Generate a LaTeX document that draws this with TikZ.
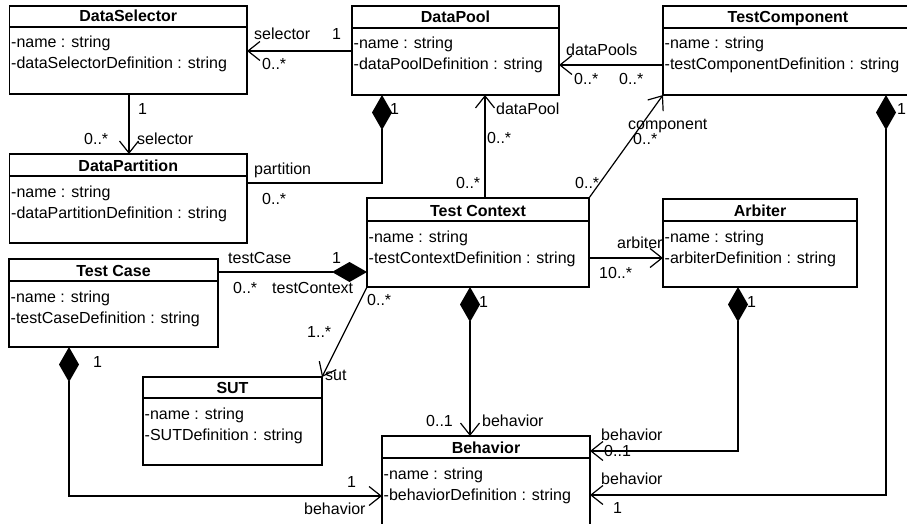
\documentclass[tikz,border=0pt]{standalone}
\usepackage{fontspec}
\setmainfont{Liberation Sans}
\usetikzlibrary{arrows.meta}
\tikzset{
  clsbox/.style={draw, line width=1.2pt, inner sep=0pt, outer sep=0pt, anchor=north west},
  clsline/.style={line width=1.2pt},
  clstitle/.style={anchor=base, inner sep=0pt, font=\fontsize{16}{19}\selectfont\bfseries},
  clsattr/.style={anchor=base west, inner sep=0pt, font=\fontsize{16}{19}\selectfont},
  lbl/.style={anchor=base west, inner sep=0pt, font=\fontsize{16}{19}\selectfont},
  assoc/.style={line width=1.2pt, -{Straight Barb[length=12pt,width=19pt]}},
  comp/.style={line width=1.2pt, {Diamond[length=35pt,width=20pt]}-},
  comparrow/.style={line width=1.2pt, {Diamond[length=35pt,width=20pt]}-{Straight Barb[length=12pt,width=19pt]}},
}
\newcommand{\umlclass}[9]{%
  \node[clsbox, minimum width={#4-#2}, minimum height={#5-#3}] (#1) at (#2,#3) {};
  \draw[clsline] (#1.west |- 0,#6) -- (#1.east |- 0,#6);
  \node[clstitle] (#1-title) at ({(#2+#4)/2},{#6-5}) {#7};
  \node[clsattr] (#1-a1) at ({#2+1.5},{#6+21}) {#8};
  \node[clsattr] (#1-a2) at ({#2+1.5},{#6+42}) {#9};
}
\newcommand{\lbl}[4]{\node[lbl] (#1) at (#2,#3) {#4};}
\begin{document}
\begin{tikzpicture}[x=1pt,y=-1pt]
\useasboundingbox (0,0) rectangle (907,524);
\fill[white] (0,0) rectangle (907,524);
\clip (0,0) rectangle (907,524);
% classes
\umlclass{ds}{9.5}{6}{247}{94}{27}{DataSelector}{-name : string}{-dataSelectorDefinition : string}
\umlclass{dpart}{9.5}{154}{247}{243}{176}{DataPartition}{-name : string}{-dataPartitionDefinition : string}
\umlclass{dp}{352}{6}{559}{95}{28}{DataPool}{-name : string}{-dataPoolDefinition : string}
\umlclass{tcomp}{663}{6}{913}{95}{28}{TestComponent}{-name : string}{-testComponentDefinition : string}
\umlclass{ctx}{367}{198}{589}{287}{221}{Test Context}{-name : string}{-testContextDefinition : string}
\umlclass{arb}{663}{199}{857}{287}{221}{Arbiter}{-name : string}{-arbiterDefinition : string}
\umlclass{tcase}{9}{259}{218}{347}{281}{Test Case}{-name : string}{-testCaseDefinition : string}
\umlclass{sut}{143}{377}{322}{465}{398}{SUT}{-name : string}{-SUTDefinition : string}
\umlclass{beh}{382}{436}{590}{545}{458}{Behavior}{-name : string}{-behaviorDefinition : string}
% connectors
\draw[assoc] (dp.west |- 0,51) -- (ds.east |- 0,51);
\draw[assoc] (ds.south -| 129,0) -- (dpart.north -| 129,0);
\draw[comp] (dp.south -| 382,0) |- (dpart.east |- 0,183);
\draw[assoc] (ctx.north -| 485,0) -- (dp.south -| 485,0);
\draw[assoc] (tcomp.west |- 0,65) -- (dp.east |- 0,65);
\draw[assoc] (ctx.north east) -- (tcomp.south west);
\draw[assoc] (ctx.east |- 0,258) -- (arb.west |- 0,258);
\draw[comp] (ctx.west |- 0,272) -- (tcase.east |- 0,272);
\draw[assoc] (ctx.south west) -- (sut.north east);
\draw[comparrow] (ctx.south -| 470,0) -- (beh.north -| 470,0);
\draw[comparrow] (arb.south -| 738,0) |- (beh.east |- 0,451);
\draw[comparrow] (tcomp.south -| 886,0) |- (beh.east |- 0,495);
\draw[comparrow] (tcase.south -| 69,0) |- (beh.west |- 0,496);
% labels
\lbl{l1}{254}{40}{selector}
\lbl{l2}{332}{40}{1}
\lbl{l3}{262}{70}{0..*}
\lbl{l4}{138}{115}{1}
\lbl{l5}{84}{144}{0..*}
\lbl{l6}{137}{144}{selector}
\lbl{l7}{254}{174}{partition}
\lbl{l8}{262}{204}{0..*}
\lbl{l9}{390}{115}{1}
\lbl{l10}{496}{114}{dataPool}
\lbl{l11}{487}{143}{0..*}
\lbl{l12}{456}{188}{0..*}
\lbl{l13}{566}{56}{dataPools}
\lbl{l14}{574}{85}{0..*}
\lbl{l15}{619}{85}{0..*}
\lbl{l16}{628}{130}{component}
\lbl{l17}{633}{144}{0..*}
\lbl{l18}{575}{188}{0..*}
\lbl{l19}{897}{115}{1}
\lbl{l20}{617}{248}{arbiter}
\lbl{l21}{599}{278}{10..*}
\lbl{l22}{228}{263}{testCase}
\lbl{l23}{332}{263}{1}
\lbl{l24}{233}{293}{0..*}
\lbl{l25}{272}{293}{testContext}
\lbl{l26}{367}{305}{0..*}
\lbl{l27}{307}{337}{1..*}
\lbl{l28}{325}{380}{sut}
\lbl{l29}{93}{367}{1}
\lbl{l30}{347}{487}{1}
\lbl{l31}{304}{514}{behavior}
\lbl{l32}{479}{307}{1}
\lbl{l33}{747}{307}{1}
\lbl{l34}{426}{426}{0..1}
\lbl{l35}{482}{426}{behavior}
\lbl{l36}{601}{440}{behavior}
\lbl{l37}{604}{456}{0..1}
\lbl{l38}{601}{484}{behavior}
\lbl{l39}{613}{513}{1}
\end{tikzpicture}
\end{document}
